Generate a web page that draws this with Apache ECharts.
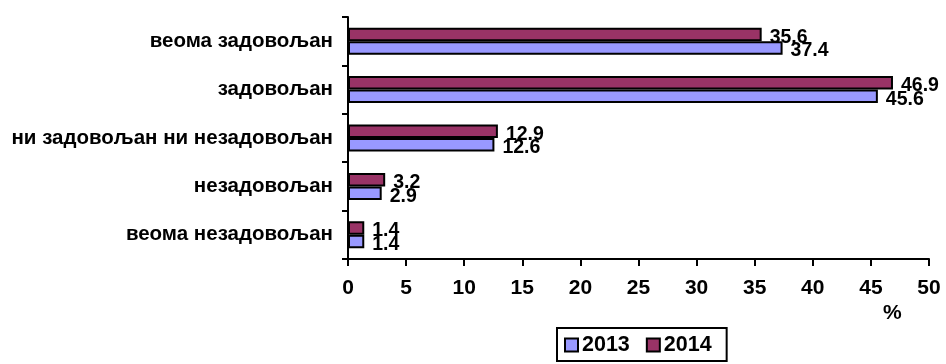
<!DOCTYPE html>
<html>
<head>
<meta charset="utf-8">
<script src="https://cdn.jsdelivr.net/npm/echarts@6/dist/echarts.min.js"></script>
<style>
html,body{margin:0;padding:0;background:#fff;}
#chart{width:946px;height:364px;}
</style>
</head>
<body>
<div id="chart"></div>
<script>
// Categories, top to bottom
const categories = ['веома задовољан', 'задовољан', 'ни задовољан ни незадовољан', 'незадовољан', 'веома незадовољан'];
const values2013 = [37.4, 45.6, 12.6, 2.9, 1.4];
const values2014 = [35.6, 46.9, 12.9, 3.2, 1.4];
const seriesNames = ['2013', '2014'];
const xTicks = { min: 0, max: 50, interval: 5 };
const axisUnit = '%';

const FONT = '"Liberation Sans", Arial, sans-serif';
const chart = echarts.init(document.getElementById('chart'), null, { renderer: 'canvas' });

const labelStyle = {
  show: true,
  position: 'right',
  distance: 8,
  offset: [0, 3],
  color: '#000',
  fontFamily: FONT,
  fontWeight: 'bold',
  fontSize: 19.5
};

chart.setOption({
  animation: false,
  backgroundColor: '#ffffff',
  grid: { left: 348, right: 17, top: 17, bottom: 105, containLabel: false },
  legend: {
    data: seriesNames,
    left: 557,
    top: 328,
    orient: 'horizontal',
    padding: [6, 15, 5, 7],
    itemGap: 16,
    itemWidth: 13,
    itemHeight: 13,
    borderColor: '#000',
    borderWidth: 2,
    icon: 'rect',
    itemStyle: { borderColor: '#000', borderWidth: 2 },
    textStyle: { color: '#000', fontFamily: FONT, fontWeight: 'bold', fontSize: 21.5, padding: [0, 0, 0, -1] }
  },
  xAxis: {
    type: 'value',
    min: xTicks.min,
    max: xTicks.max,
    interval: xTicks.interval,
    splitLine: { show: false },
    axisLine: { show: true, lineStyle: { color: '#000', width: 2 } },
    axisTick: { show: true, length: 7, lineStyle: { color: '#000', width: 2 } },
    axisLabel: { color: '#000', fontFamily: FONT, fontWeight: 'bold', fontSize: 21, margin: 19 }
  },
  yAxis: {
    type: 'category',
    data: categories,
    inverse: true,
    axisLine: { show: true, lineStyle: { color: '#000', width: 2 } },
    axisTick: { show: true, length: 6, lineStyle: { color: '#000', width: 2 } },
    axisLabel: { color: '#000', fontFamily: FONT, fontWeight: 'bold', fontSize: 20.5, margin: 15, padding: [4, 0, 0, 0] }
  },
  graphic: [{
    type: 'text',
    left: 883,
    top: 303,
    style: { text: axisUnit, fill: '#000', font: 'bold 21px ' + FONT }
  }],
  series: [
    {
      name: seriesNames[1],
      type: 'bar',
      data: values2014,
      barWidth: 13.5,
      barGap: '0%',
      itemStyle: { color: '#993366', borderColor: '#000', borderWidth: 2 },
      label: labelStyle
    },
    {
      name: seriesNames[0],
      type: 'bar',
      data: values2013,
      barWidth: 13.5,
      barGap: '0%',
      itemStyle: { color: '#9999FF', borderColor: '#000', borderWidth: 2 },
      label: labelStyle
    }
  ]
});
</script>
</body>
</html>
